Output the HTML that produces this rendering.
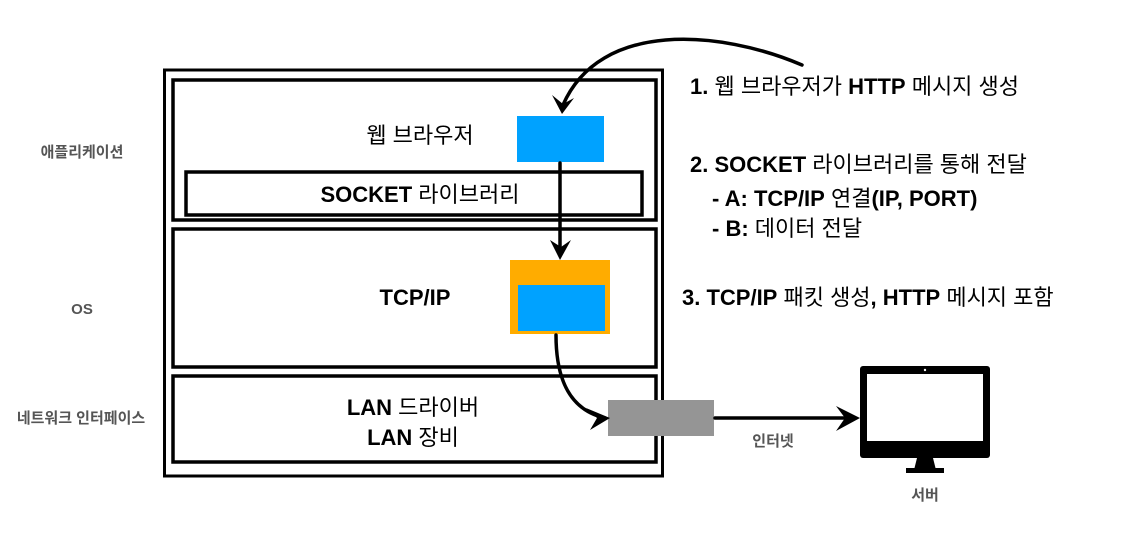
<!DOCTYPE html>
<html><head><meta charset="utf-8"><style>
body{margin:0;background:#fff;width:1136px;height:532px;overflow:hidden}
text{font-family:"Liberation Sans","Noto Sans CJK KR",sans-serif}
</style></head><body>
<svg width="1136" height="532" xmlns="http://www.w3.org/2000/svg">
<rect x="164.5" y="70" width="498" height="406" fill="none" stroke="#000" stroke-width="3"/>
<rect x="173" y="80" width="483" height="140" fill="none" stroke="#000" stroke-width="3.5"/>
<rect x="173" y="229" width="483" height="138" fill="none" stroke="#000" stroke-width="3.5"/>
<rect x="173" y="376" width="483" height="86" fill="none" stroke="#000" stroke-width="3.5"/>
<rect x="186" y="172" width="456" height="43" fill="none" stroke="#000" stroke-width="3.5"/>
<rect x="517" y="116" width="87" height="46" fill="#00a2ff"/>
<rect x="510" y="260" width="100" height="74" fill="#ffac00"/>
<rect x="518" y="285" width="87" height="46" fill="#00a2ff"/>
<rect x="608" y="400" width="106" height="36" fill="#959595"/>
<g fill="none" stroke="#000" stroke-width="3.5" stroke-linecap="round">
<path d="M802 65 C720 30 600 20 563 105"/>
<path d="M560 163 L560 252"/>
<path d="M556 335 C556 380 570 410 605 418"/>
<path d="M715 418 L855 418"/>
</g>
<g fill="#000">
<path d="M552 95 L562 114 L574 98 L563 104 Z"/>
<path d="M550 240 L560 260 L571 240 L561 247 Z"/>
<path d="M586 408 L610 418 L590 430 L597 418 Z"/>
<path d="M836 406 L860 418 L836 431 L845 418 Z"/>
</g>
<rect x="860" y="366" width="130" height="92" rx="3" fill="#000"/>
<rect x="867" y="374" width="116" height="67" fill="#fff"/>
<circle cx="925" cy="370" r="1.2" fill="#fff"/>
<path d="M917 458 L933 458 L936 470 L914 470 Z" fill="#000"/>
<rect x="906" y="468" width="38" height="5" fill="#000"/>
<g font-size="22" text-anchor="middle" fill="#000">
<text x="420" y="143">웹 브라우저</text>
<text x="420" y="202" font-weight="bold">SOCKET <tspan font-weight="normal">라이브러리</tspan></text>
<text x="415" y="305" font-weight="bold">TCP/IP</text>
<text x="413" y="415" font-weight="bold">LAN <tspan font-weight="normal">드라이버</tspan></text>
<text x="413" y="445" font-weight="bold">LAN <tspan font-weight="normal">장비</tspan></text>
</g>
<g font-size="15" fill="#555" font-weight="bold" text-anchor="middle">
<text x="82" y="157">애플리케이션</text>
<text x="82" y="314">OS</text>
<text x="81" y="423">네트워크 인터페이스</text>
<text x="773" y="446">인터넷</text>
<text x="925" y="500">서버</text>
</g>
<g font-size="22" fill="#000">
<text x="690" y="94"><tspan font-weight="bold">1.</tspan> 웹 브라우저가 <tspan font-weight="bold">HTTP</tspan> 메시지 생성</text>
<text x="690" y="172"><tspan font-weight="bold">2. SOCKET</tspan> 라이브러리를 통해 전달</text>
<text x="712" y="206"><tspan font-weight="bold">- A: TCP/IP</tspan> 연결<tspan font-weight="bold">(IP, PORT)</tspan></text>
<text x="712" y="236"><tspan font-weight="bold">- B:</tspan> 데이터 전달</text>
<text x="682" y="305"><tspan font-weight="bold">3. TCP/IP</tspan> 패킷 생성<tspan font-weight="bold">, HTTP</tspan> 메시지 포함</text>
</g>
</svg>
</body></html>
